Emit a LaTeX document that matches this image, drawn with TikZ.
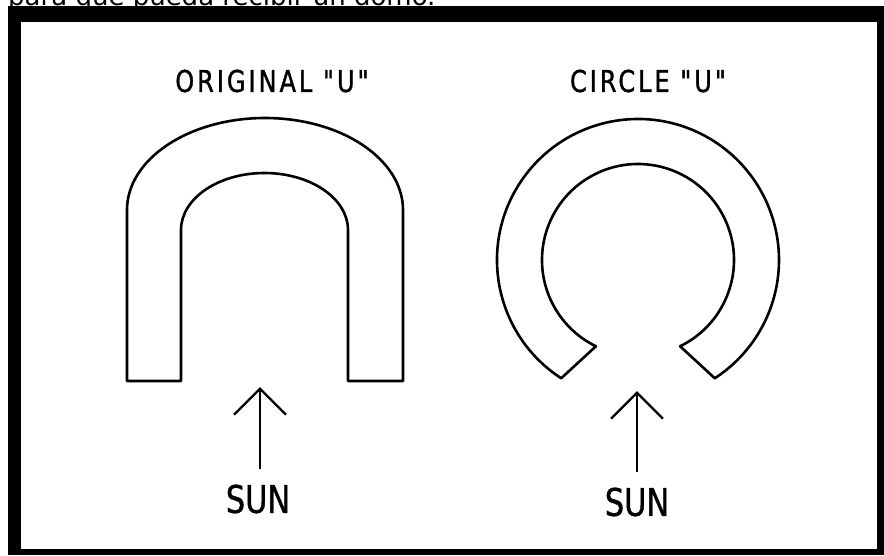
\documentclass[tikz,border=0pt]{standalone}
\usepackage{fontspec}
\usetikzlibrary{arrows.meta,calc}
\newfontfamily\capfont{DejaVu Sans}
\newfontfamily\titlefont[FakeStretch=0.8,LetterSpace=10,FakeBold=1.2]{DejaVu Sans}
\newfontfamily\sunfont[FakeStretch=0.8,FakeBold=1]{DejaVu Sans}
\tikzset{
  outline/.style={draw=black, line width=2.6pt, line join=round},
  title/.style={inner sep=0pt, font=\titlefont\fontsize{30}{30}\selectfont},
  sunlabel/.style={inner sep=0pt, font=\sunfont\fontsize{38}{38}\selectfont},
  sunarrow/.style={draw=black, line width=2.4pt, -{Straight Barb[length=26pt,width=52pt]}, shorten <=15pt}
}
\begin{document}
\begin{tikzpicture}[x=1pt,y=-1pt]
\useasboundingbox (0,0) rectangle (884,555);
\fill[white] (0,0) rectangle (884,555);
% cropped caption line above the frame
\begin{scope}
  \clip (0,0) rectangle (884,7);
  \node[anchor=base west, inner sep=0pt, font=\capfont\fontsize{26}{26}\selectfont] (caption) at (8,5.5) {para que pueda recibir un domo.};
\end{scope}
% frame
\fill[black] (8,6) rectangle (884,555);
\fill[white] (21,22) rectangle (877,549);
% titles
\node[title] (t1) at (272,81) {ORIGINAL "U"};
\node[title] (t2) at (648,81) {CIRCLE "U"};
% original U
\draw[outline] (127,381) -- (127,210)
  arc[start angle=180, end angle=360, x radius=138, y radius=92]
  -- (403,381) -- (348,381) -- (348,230)
  arc[start angle=0, end angle=-180, x radius=83.5, y radius=57]
  -- (181,381) -- cycle;
% circle U
\coordinate (cc) at (638,260);
\draw[outline] ($(cc)+(123:141)$)
  arc[start angle=123, end angle=417, radius=141]
  -- ($(cc)+(64:96)$)
  arc[start angle=64, end angle=-244, radius=96]
  -- cycle;
% sun labels and arrows
\node[sunlabel] (sunL) at (258,499) {SUN};
\node[sunlabel] (sunR) at (637,502) {SUN};
\coordinate (tipL) at (260,387);
\coordinate (tipR) at (637,391);
\draw[sunarrow] (sunL.north -| tipL) -- (tipL);
\draw[sunarrow] (sunR.north -| tipR) -- (tipR);
\end{tikzpicture}
\end{document}
